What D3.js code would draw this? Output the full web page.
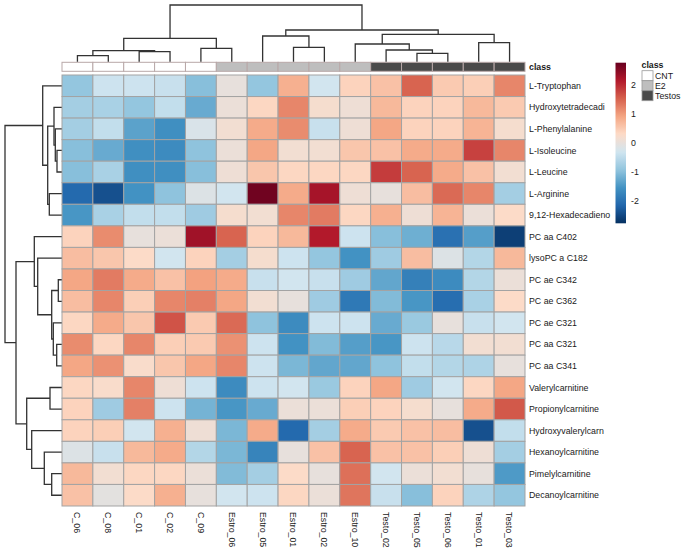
<!DOCTYPE html>
<html><head><meta charset="utf-8">
<script src="https://cdn.jsdelivr.net/npm/d3@7"></script>
<style>body{margin:0;background:#fff;} text{font-family:"Liberation Sans",Arial,sans-serif;fill:#1a1a1a;}</style>
</head><body>
<svg id="chart" width="685" height="550"></svg>
<script>
const columns = ["C_06","C_08","C_01","C_02","C_09","Estro_06","Estro_05","Estro_01","Estro_02","Estro_10","Testo_02","Testo_05","Testo_06","Testo_01","Testo_03"];
const columnClass = ["CNT","CNT","CNT","CNT","CNT","E2","E2","E2","E2","E2","Testos","Testos","Testos","Testos","Testos"];
const rows = ["L-Tryptophan","Hydroxytetradecadi","L-Phenylalanine","L-Isoleucine","L-Leucine","L-Arginine","9,12-Hexadecadieno","PC aa C402","lysoPC a C182","PC ae C342","PC ae C362","PC ae C321","PC aa C321","PC aa C341","Valerylcarnitine","Propionylcarnitine","Hydroxyvalerylcarn","Hexanoylcarnitine","Pimelylcarnitine","Decanoylcarnitine"];
const values = [
  [-0.9,-0.35,-0.35,-0.4,-1.0, 0.0,-0.9, 0.8,-0.3, 0.4, 0.6, 1.5, 0.5, 0.45, 1.2],
  [-0.75,-0.7,-0.9,-0.45,-1.25, 0.05, 0.35, 1.2, 0.2, 0.1, 0.7, 0.4, 0.4, 0.7, 0.5],
  [-0.75,-0.45,-1.35,-1.6,-0.2, 0.15, 0.85, 1.15,-0.4, 0.1, 0.9, 0.4, 0.4, 0.75, 0.2],
  [-1.0,-1.25,-1.6,-1.65,-0.95, 0.05, 0.9, 0.15, 0.15, 0.55, 0.6, 0.85, 0.85, 1.8, 1.2],
  [-1.0,-0.7,-1.6,-1.6,-1.0, 0.1, 0.55, 0.35, 0.35, 0.35, 1.85, 1.5, 0.85, 0.6, 0.15],
  [-2.1,-2.4,-1.55,-0.95,-0.15,-0.3, 2.7, 0.85, 2.25, 0.1, 0.0, 0.65, 1.45, 1.2,-0.75],
  [-1.5,-0.7,-0.45,-0.45,-0.8, 0.2, 0.15, 1.2, 1.3, 0.35, 0.8, 0.1, 0.75, 0.05, 0.3],
  [0.4, 1.15, 0.0, 0.05, 2.3, 1.5, 0.4, 0.7, 2.15,-0.35,-1.0,-1.2,-2.0,-1.4,-2.6],
  [0.65, 0.55, 0.3,-0.3, 0.4,-0.75, 0.2,-0.35,-0.9,-1.55,-0.8, 0.65,-0.15,-0.6, 0.7],
  [0.9, 1.3, 0.85, 0.6, 0.95, 0.85,-0.4,-0.3,-0.4,-0.8,-1.3,-1.8,-1.65,-0.6, 0.05],
  [0.65, 1.2, 0.45, 1.2, 1.25, 0.9, 0.15, 0.0,-0.8,-1.9,-1.05,-1.5,-2.05,-0.7, 0.3],
  [0.35, 0.85, 0.55, 1.65, 0.5, 1.45,-0.95,-1.65,-0.35,-0.35,-1.25,-0.85, 0.0,-0.4,-0.3],
  [1.15, 0.35, 1.2, 0.45, 0.5, 1.1,-0.35,-1.55,-1.05,-1.4,-1.5,-0.35,-0.55, 0.15, 0.15],
  [0.9, 1.1, 0.25, 0.55, 0.9, 1.2,-0.35,-1.1,-1.3,-1.3,-0.95,-0.45,-0.6,-0.65, 0.0],
  [0.35, 0.25, 1.2, 0.1,-0.35,-1.65,-0.35,-0.3,-0.85, 0.4, 0.9,-0.8,-0.3, 0.35, 0.9],
  [0.4,-0.8, 1.25,-0.35,-1.15,-1.5,-1.25, 0.05, 0.05, 0.45, 0.4, 0.2, 0.0, 0.85, 1.6],
  [0.4, 0.45,-0.3, 0.8, 0.1,-1.1, 0.85,-2.1,-0.75, 0.85, 0.5, 0.6, 0.65,-2.4,-0.45],
  [-0.15,-0.4, 0.7, 0.85,-0.6,-1.1,-1.75, 0.0, 0.6, 1.5, 0.6, 0.6, 0.45, 0.1,-0.75],
  [0.7, 0.15, 0.35, 0.35, 0.05,-1.05,-0.75, 0.3, 0.0, 1.4,-0.3, 0.05, 0.15, 0.0,-1.45],
  [0.6,-0.05, 0.3, 0.8, 0.0,-0.3,-0.35, 0.35, 0.05, 1.35,-0.4,-1.0, 0.4,-0.65,-0.9]
];
// hclust-like merges: [left, right, height]; numbers refer to earlier merges
const colMerges = [
  ["C_06","C_08",6],["Testo_05","Testo_06",8.4],["C_01","C_02",10],[0,2,11],["Testo_02",1,11.7],
  ["C_09","Estro_06",13.4],["Estro_01","Estro_02",14.4],["Estro_10",4,17.7],["Testo_01","Testo_03",19],
  [3,5,23.4],["Estro_05",6,25.7],[7,8,27.4],[10,11,31.7],[9,12,56.7]
];
const rowMerges = [
  ["PC ae C342","PC ae C362",3.4],["L-Isoleucine","L-Leucine",4.7],["PC aa C321","PC aa C341",5],
  ["L-Phenylalanine",1,6.4],["Hydroxytetradecadi",3,7.7],["PC ae C321",2,8.4],[0,5,10],
  ["Pimelylcarnitine","Decanoylcarnitine",10],["Valerylcarnitine","Propionylcarnitine",11.7],
  ["L-Arginine","9,12-Hexadecadieno",12.4],[4,9,14],["Hexanoylcarnitine",7,17.4],["L-Tryptophan",10,19],
  ["lysoPC a C182",6,24],["PC aa C402",13,27.4],["Hydroxyvalerylcarn",11,30],[8,15,35],[14,16,45.7],[12,17,56.7]
];
const classes = ["CNT","E2","Testos"];
const classColors = ["#ffffff","#bebebe","#4a4a4a"];
const legendTicks = [2,1,0,-1,-2];
const palette = ["#053061","#2166AC","#4393C3","#92C5DE","#D1E5F0","#FDDBC7","#F4A582","#D6604D","#B2182B","#67001F"];
const vmin = -2.77, vmax = 2.77;

const svg = d3.select("#chart");
svg.append("rect").attr("width",685).attr("height",550).attr("fill","#fff");

const x = d3.scaleBand().domain(columns).range([62,525]);
const y = d3.scaleBand().domain(rows).range([75,506]);
const color = d3.scaleLinear()
  .domain(palette.map((_,i)=>vmin + i*(vmax-vmin)/(palette.length-1)))
  .range(palette).interpolate(d3.interpolateRgb).clamp(true);
const classColor = d3.scaleOrdinal().domain(classes).range(classColors);

// heatmap cells
const cells = [];
rows.forEach((r,i)=>columns.forEach((c,j)=>cells.push({r,c,v:values[i][j]})));
svg.append("g").selectAll("rect").data(cells).join("rect")
  .attr("x",d=>x(d.c)).attr("y",d=>y(d.r))
  .attr("width",x.bandwidth()).attr("height",y.bandwidth())
  .attr("fill",d=>color(d.v)).attr("stroke","#a3a3a3").attr("stroke-width",1);

// class annotation bar
svg.append("g").selectAll("rect").data(columns).join("rect")
  .attr("x",d=>x(d)).attr("y",62.3).attr("width",x.bandwidth()).attr("height",9)
  .attr("fill",(d,i)=>classColor(columnClass[i])).attr("stroke","#b8a8a8").attr("stroke-width",1);
svg.append("text").attr("x",529).attr("y",67).attr("dy","0.35em")
  .attr("font-size",8.8).attr("font-weight","bold").text("class");

// row labels
svg.append("g").selectAll("text").data(rows).join("text")
  .attr("x",529).attr("y",d=>y(d)+y.bandwidth()/2).attr("dy","0.35em")
  .attr("font-size",8.8).text(d=>d);

// column labels
svg.append("g").selectAll("text").data(columns).join("text")
  .attr("transform",d=>`translate(${x(d)+x.bandwidth()/2},512) rotate(90)`)
  .attr("dy","0.35em").attr("font-size",8.8).text(d=>d);

// dendrograms
function drawDendro(merges, band, hScale, horizontal){
  const pos = [], ht = [];
  const getP = k => typeof k === "string" ? band(k)+band.bandwidth()/2 : pos[k];
  const getH = k => typeof k === "string" ? 0 : ht[k];
  const g = svg.append("g").attr("fill","none").attr("stroke","#333").attr("stroke-width",1.3);
  merges.forEach((m,i)=>{
    const [a,b,h] = m;
    const pa = getP(a), pb = getP(b), ha = getH(a), hb = getH(b);
    pos[i] = (pa+pb)/2; ht[i] = h;
    let path;
    if(horizontal){ // top dendrogram
      path = `M${pa},${hScale(ha)}V${hScale(h)}H${pb}V${hScale(hb)}`;
    } else {
      path = `M${hScale(ha)},${pa}H${hScale(h)}V${pb}H${hScale(hb)}`;
    }
    g.append("path").attr("d",path);
  });
}
const colH = d3.scaleLinear().domain([0,56.7]).range([61.7,5]);
const rowH = d3.scaleLinear().domain([0,56.7]).range([61.7,5]);
drawDendro(colMerges, x, colH, true);
drawDendro(rowMerges, y, rowH, false);

// color legend
const legY = d3.scaleLinear().domain([vmin,vmax]).range([223.3,62.7]);
const defs = svg.append("defs");
const grad = defs.append("linearGradient").attr("id","lg").attr("x1",0).attr("x2",0).attr("y1",1).attr("y2",0);
d3.range(0,1.0001,0.02).forEach(t=>grad.append("stop").attr("offset",t).attr("stop-color",color(vmin+t*(vmax-vmin))));
svg.append("rect").attr("x",615.5).attr("y",legY(vmax)).attr("width",10.5)
  .attr("height",legY(vmin)-legY(vmax)).attr("fill","url(#lg)");
svg.append("g").selectAll("text").data(legendTicks).join("text")
  .attr("x",631).attr("y",d=>legY(d)).attr("dy","0.35em").attr("font-size",8.8).text(d=>d);

// class legend
svg.append("text").attr("x",641.5).attr("y",65).attr("dy","0.35em")
  .attr("font-size",8.8).attr("font-weight","bold").text("class");
const ly = d3.scaleBand().domain(classes).range([70.7,100.7]);
svg.append("g").selectAll("rect").data(classes).join("rect")
  .attr("x",642).attr("y",d=>ly(d)).attr("width",11).attr("height",ly.bandwidth())
  .attr("fill",d=>classColor(d)).attr("stroke","#9a9a9a").attr("stroke-width",0.8);
svg.append("g").selectAll("text").data(classes).join("text")
  .attr("x",655).attr("y",d=>ly(d)+ly.bandwidth()/2).attr("dy","0.35em")
  .attr("font-size",8.8).text(d=>d);
</script>
</body></html>
